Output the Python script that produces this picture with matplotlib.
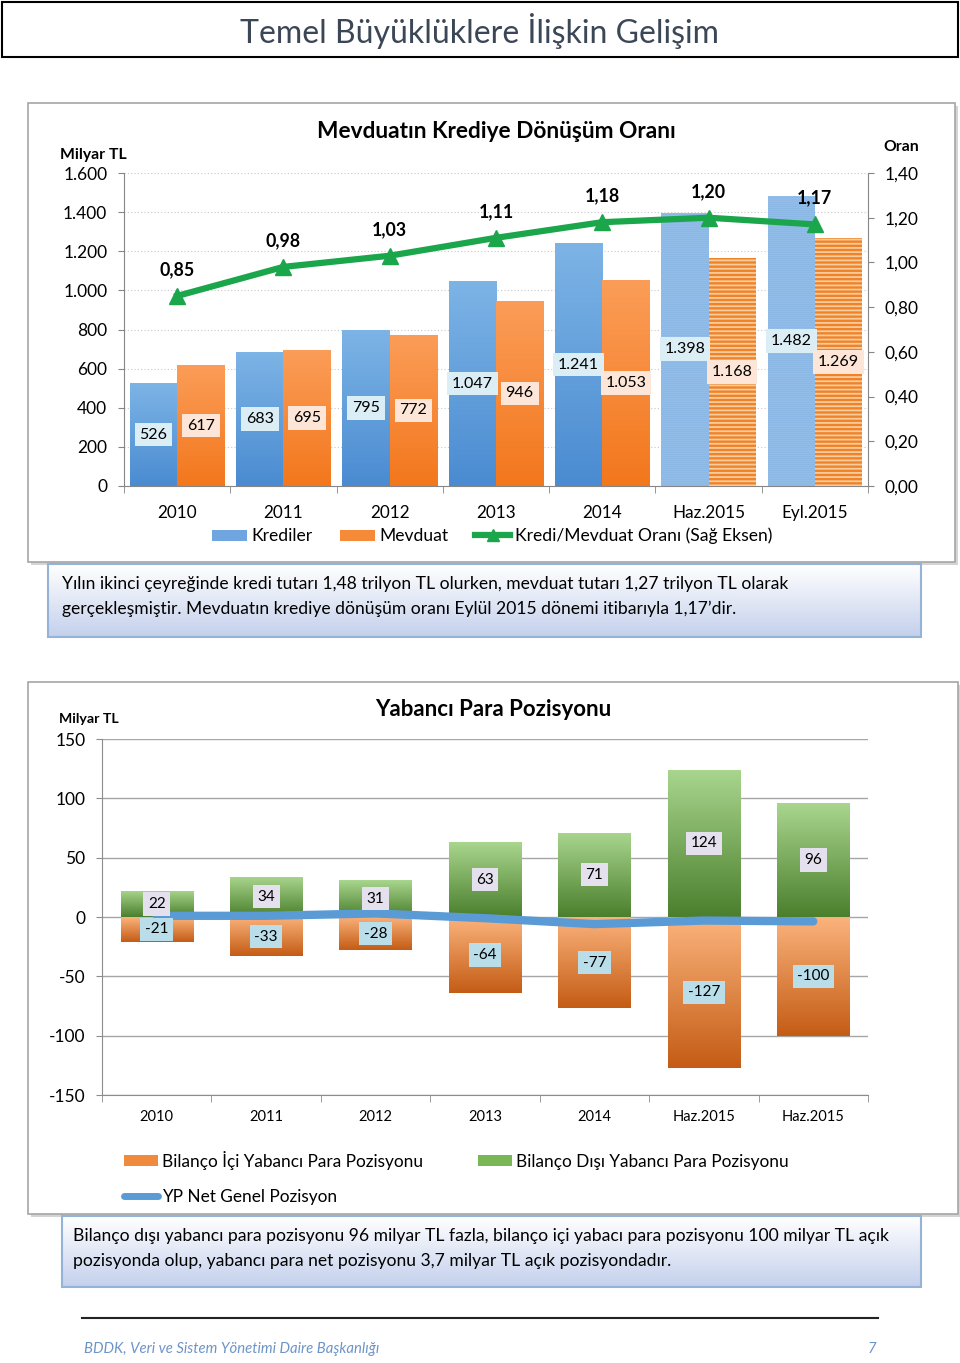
import matplotlib
matplotlib.use("Agg")
import matplotlib.pyplot as plt
import numpy as np
from matplotlib.colors import LinearSegmentedColormap
from matplotlib.patches import Rectangle, Patch
from matplotlib.lines import Line2D

plt.rcParams['font.family'] = ['Lato', 'DejaVu Sans']
plt.rcParams['hatch.linewidth'] = 1.3
plt.rcParams['axes.unicode_minus'] = False

W, H = 960, 1363

# --- chart 1 data
yillar = ['2010', '2011', '2012', '2013', '2014', 'Haz.2015', 'Eyl.2015']
krediler = [526, 683, 795, 1047, 1241, 1398, 1482]
mevduat = [617, 695, 772, 946, 1053, 1168, 1269]
oran = [0.85, 0.98, 1.03, 1.11, 1.18, 1.20, 1.17]
taranmis = [5, 6]  # striped bars (2015)

# --- chart 2 data
donemler = ['2010', '2011', '2012', '2013', '2014', 'Haz.2015', 'Haz.2015']
bilanco_ici = [-21, -33, -28, -64, -77, -127, -100]
bilanco_disi = [22, 34, 31, 63, 71, 124, 96]
net_pozisyon = [1, 1, 3, -1, -6, -3, -3.7]

metin1 = ["Yılın ikinci çeyreğinde kredi tutarı 1,48 trilyon TL olurken, mevduat tutarı 1,27 trilyon TL olarak",
          "gerçekleşmiştir. Mevduatın krediye dönüşüm oranı Eylül 2015 dönemi itibarıyla 1,17’dir."]
metin2 = ["Bilanço dışı yabancı para pozisyonu 96 milyar TL fazla, bilanço içi yabacı para pozisyonu 100 milyar TL açık",
          "pozisyonda olup, yabancı para net pozisyonu 3,7 milyar TL açık pozisyondadır."]


def fb(x0, y0, x1, y1):
    return [x0 / W, 1 - y1 / H, (x1 - x0) / W, (y1 - y0) / H]


def gradient_bars(ax, bars, top, bottom, skip=()):
    cmap = LinearSegmentedColormap.from_list('g', [bottom, top])
    grad = np.linspace(0, 1, 128).reshape(-1, 1)
    for i, p in enumerate(bars):
        if i in skip:
            continue
        x0, y0 = p.get_x(), p.get_y()
        x1, y1 = x0 + p.get_width(), y0 + p.get_height()
        lo, hi = min(y0, y1), max(y0, y1)
        im = ax.imshow(grad, extent=(x0, x1, lo, hi), origin='lower', cmap=cmap,
                       aspect='auto', zorder=p.get_zorder(), interpolation='bilinear')
        im.set_clip_path(p)
        p.set_facecolor('none')


fig = plt.figure(figsize=(W / 100, H / 100), dpi=100)

page = fig.add_axes([0, 0, 1, 1], zorder=0)
page.set_xlim(0, W)
page.set_ylim(H, 0)
page.axis('off')

# header
page.add_patch(Rectangle((2, 2), 956, 55, fill=False, ec='black', lw=1.5))
page.text(480, 31, 'Temel Büyüklüklere İlişkin Gelişim', ha='center', va='center',
          fontsize=23, color='#3b4757')

# frames
for (x, y, w, h) in [(28, 103, 927, 459), (28, 682, 930, 532)]:
    page.add_patch(Rectangle((x + 3, y + 3), w, h, fc='#d4d4d4', ec='none'))
    page.add_patch(Rectangle((x, y), w, h, fc='white', ec='#a6a6a6', lw=1.2))

# text boxes
box_cmap = LinearSegmentedColormap.from_list('b', ['#ffffff', '#c4d0ec'])
for (x0, y0, x1, y1), lines, tx in [((48, 564, 921, 637), metin1, 62),
                                     ((62, 1216, 921, 1287), metin2, 73)]:
    page.imshow(np.linspace(0, 1, 64).reshape(-1, 1), extent=(x0, x1, y1, y0),
                origin='upper', cmap=box_cmap, aspect='auto')
    page.add_patch(Rectangle((x0, y0), x1 - x0, y1 - y0, fill=False, ec='#95b3d7', lw=1.5))
    for k, s in enumerate(lines):
        page.text(tx, y0 + 20 + 25 * k, s, ha='left', va='center', fontsize=12.6, color='black')
page.set_xlim(0, W)
page.set_ylim(H, 0)

# footer
page.plot([82, 878], [1318, 1318], color='#222222', lw=1.5)
page.text(84, 1349, 'BDDK, Veri ve Sistem Yönetimi Daire Başkanlığı', ha='left', va='center',
          fontsize=10.7, style='italic', color='#6d94c8')
page.text(876, 1349, '7', ha='right', va='center', fontsize=10.7, style='italic', color='#6d94c8')

# ---------------- chart 1
ax1 = fig.add_axes(fb(124, 173, 868, 486), zorder=1)
ax1.set_facecolor('none')
x = np.arange(len(yillar))
bw = 0.445
kb = ax1.bar(x - bw / 2, krediler, bw, color='#6fa6df', zorder=2)
mb = ax1.bar(x + bw / 2, mevduat, bw, color='#f58a38', zorder=2)
gradient_bars(ax1, kb, '#7db4e6', '#4a8bd1', skip=taranmis)
gradient_bars(ax1, mb, '#fb9d58', '#f3771c', skip=taranmis)
for i in taranmis:
    kb[i].set_facecolor('#78a8dc')
    mb[i].set_facecolor('#ef832a')
ax1.bar(x[taranmis] - bw / 2, np.array(krediler)[taranmis], bw, fc='none', ec='#93bde9',
        lw=0, hatch='--------', zorder=3)
ax1.bar(x[taranmis] + bw / 2, np.array(mevduat)[taranmis], bw, fc='none', ec='#f9cc9c',
        lw=0, hatch='----', zorder=3)

for i in range(len(yillar)):
    ax1.text(x[i] - bw / 2, krediler[i] / 2, f'{krediler[i]:,}'.replace(',', '.'), ha='center',
             va='center', fontsize=11.5, zorder=5,
             bbox=dict(boxstyle='square,pad=0.3', fc='#dbeef5', ec='none'))
    ax1.text(x[i] + bw / 2, mevduat[i] / 2, f'{mevduat[i]:,}'.replace(',', '.'), ha='center',
             va='center', fontsize=11.5, zorder=5,
             bbox=dict(boxstyle='square,pad=0.3', fc='#fde6d7', ec='none'))

ax1.set_xlim(-0.5, len(yillar) - 0.5)
ax1.set_ylim(0, 1600)
ax1.set_yticks(np.arange(0, 1601, 200))
ax1.set_yticklabels([f'{v:,}'.replace(',', '.') for v in range(0, 1601, 200)])
ax1.set_xticks(x)
ax1.set_xticklabels(yillar)
ax1.set_xticks(np.arange(-0.5, len(yillar), 1), minor=True)
ax1.tick_params(axis='x', which='major', length=0, pad=13.5, labelsize=12.3)
ax1.tick_params(axis='x', which='minor', length=5, color='#868686')
ax1.tick_params(axis='y', length=4, pad=8, color='#868686', labelsize=12.5)
ax1.yaxis.grid(True, ls=(0, (1, 2)), color='#c8c8c8', lw=0.8, zorder=0)
ax1.set_axisbelow(True)
for s in ['top', 'right']:
    ax1.spines[s].set_visible(False)
for s in ['left', 'bottom']:
    ax1.spines[s].set_color('#868686')

ax1r = ax1.twinx()
ax1r.set_ylim(0, 1.4)
ax1r.set_yticks(np.arange(0, 1.41, 0.2))
ax1r.set_yticklabels([f'{v:.2f}'.replace('.', ',') for v in np.arange(0, 1.41, 0.2)])
ax1r.tick_params(axis='y', length=4, pad=8, color='#868686', labelsize=12.5)
for s in ['top', 'left', 'bottom']:
    ax1r.spines[s].set_visible(False)
ax1r.spines['right'].set_color('#868686')
oran_line, = ax1r.plot(x, oran, color='#1ca64c', lw=4.5, marker='^', ms=11, zorder=6)
for i, v in enumerate(oran):
    ax1r.annotate(f'{v:.2f}'.replace('.', ','), (x[i], v), xytext=(0, 19), textcoords='offset points',
                  ha='center', va='center', fontsize=12.8, fontweight='bold')

page.text(496, 131, 'Mevduatın Krediye Dönüşüm Oranı', ha='center', va='center',
          fontsize=16.3, fontweight='bold')
page.text(60, 155, 'Milyar TL', ha='left', va='center', fontsize=11.3, fontweight='bold')
page.text(883, 147, 'Oran', ha='left', va='center', fontsize=11.3, fontweight='bold')

fig.legend([Patch(fc='#6fa6df'), Patch(fc='#f58a38'),
            Line2D([], [], color='#1ca64c', lw=4.5, marker='^', ms=8)],
           ['Krediler', 'Mevduat', 'Kredi/Mevduat Oranı (Sağ Eksen)'],
           loc='center left', bbox_to_anchor=(212 / W, 1 - 536 / H), ncol=3, frameon=False,
           fontsize=12.6, handlelength=2.0, handletextpad=0.25, columnspacing=1.55,
           borderpad=0, borderaxespad=0, handleheight=0.6)

# ---------------- chart 2
ax2 = fig.add_axes(fb(102, 739, 868, 1095), zorder=1)
ax2.set_facecolor('none')
x2 = np.arange(len(donemler))
bw2 = 0.66
db = ax2.bar(x2, bilanco_disi, bw2, color='#78b656', zorder=2)
ib = ax2.bar(x2, bilanco_ici, bw2, color='#ef8a3e', zorder=2)
gradient_bars(ax2, db, '#a9d68e', '#4b7f2d')
gradient_bars(ax2, ib, '#fbb37c', '#c45c15')
net_line, = ax2.plot(x2, net_pozisyon, color='#5b9bd5', lw=6, solid_capstyle='round', zorder=4)
for i in range(len(donemler)):
    ax2.text(x2[i], bilanco_disi[i] / 2, str(bilanco_disi[i]), ha='center', va='center',
             fontsize=11, zorder=5, bbox=dict(boxstyle='square,pad=0.3', fc='#e5e0ed', ec='none'))
    ax2.text(x2[i], bilanco_ici[i] / 2, str(bilanco_ici[i]), ha='center', va='center',
             fontsize=11, zorder=5, bbox=dict(boxstyle='square,pad=0.3', fc='#b9dee9', ec='none'))

ax2.set_xlim(-0.5, len(donemler) - 0.5)
ax2.set_ylim(-150, 150)
ax2.set_yticks(np.arange(-150, 151, 50))
ax2.set_xticks(x2)
ax2.set_xticklabels(donemler)
ax2.set_xticks(np.arange(-0.5, len(donemler), 1), minor=True)
ax2.tick_params(axis='x', which='major', length=0, pad=11, labelsize=10.5)
ax2.tick_params(axis='x', which='minor', length=5, color='#8c8c8c')
ax2.tick_params(axis='y', length=4, pad=8, color='#8c8c8c', labelsize=12.5)
ax2.yaxis.grid(True, color='#a6a6a6', lw=1, zorder=0)
ax2.set_axisbelow(True)
for s in ['top', 'right']:
    ax2.spines[s].set_visible(False)
for s in ['left', 'bottom']:
    ax2.spines[s].set_color('#8c8c8c')

page.text(493, 710, 'Yabancı Para Pozisyonu', ha='center', va='center', fontsize=16,
          fontweight='bold')
page.text(59, 719, 'Milyar TL', ha='left', va='center', fontsize=10.2, fontweight='bold')

fig.legend([Patch(fc='#ef8a3e'), Line2D([], [], color='#5b9bd5', lw=5, solid_capstyle='round'),
            Patch(fc='#78b656')],
           ['Bilanço İçi Yabancı Para Pozisyonu', 'YP Net Genel Pozisyon',
            'Bilanço Dışı Yabancı Para Pozisyonu'],
           loc='upper left', bbox_to_anchor=(124 / W, 1 - 1151 / H), ncol=2, frameon=False,
           fontsize=12.4, handlelength=2.0, handletextpad=0.2, columnspacing=3.2,
           labelspacing=1.1, borderpad=0, borderaxespad=0, handleheight=0.6)

fig.savefig('out.png', dpi=100)
